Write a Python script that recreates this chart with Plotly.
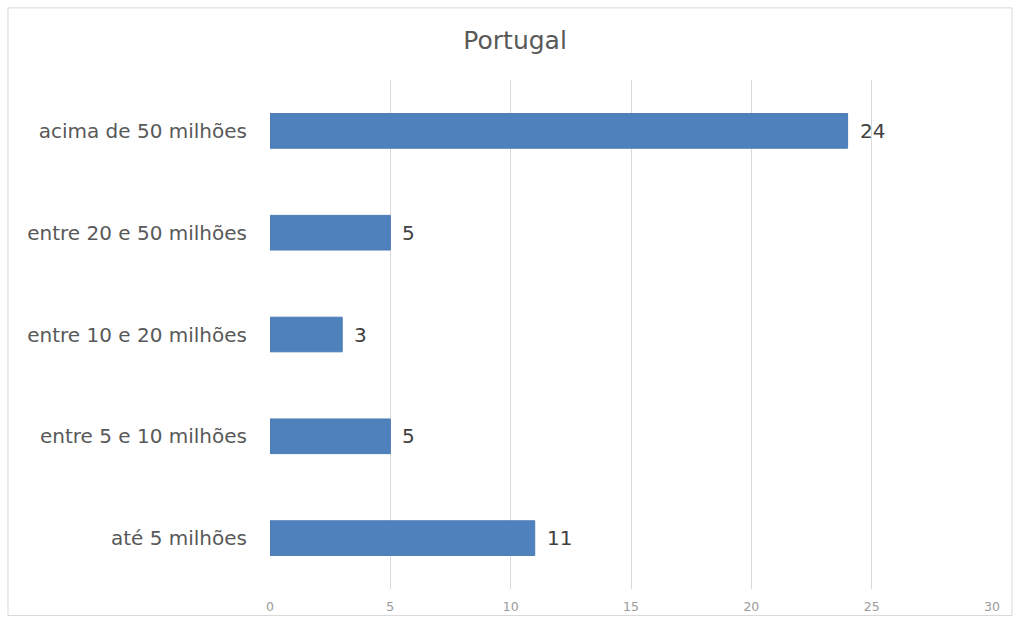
import plotly.graph_objects as go

# Categories listed bottom-to-top (Plotly draws the first category at the bottom)
categorias = [
    "até 5 milhões",
    "entre 5 e 10 milhões",
    "entre 10 e 20 milhões",
    "entre 20 e 50 milhões",
    "acima de 50 milhões",
]
valores = [11, 5, 3, 5, 24]
x_ticks = [0, 5, 10, 15, 20, 25, 30]

FONT = "DejaVu Sans"

fig = go.Figure(
    go.Bar(
        x=valores,
        y=categorias,
        orientation="h",
        marker=dict(color="#4f81bd", line=dict(color="#4a7ab5", width=1)),
        cliponaxis=False,
        hoverinfo="x+y",
    )
)

# Value labels placed just past the end of each bar
for cat, v in zip(categorias, valores):
    fig.add_annotation(
        x=v,
        y=cat,
        xref="x",
        yref="y",
        text=str(v),
        showarrow=False,
        xanchor="left",
        yanchor="middle",
        xshift=10,
        font=dict(family=FONT, size=20, color="#404040"),
    )

fig.update_layout(
    width=1016,
    height=626,
    margin=dict(l=270, r=24, t=80, b=31),
    paper_bgcolor="white",
    plot_bgcolor="white",
    bargap=0.66,
    showlegend=False,
    title=dict(
        text="Portugal",
        x=0.507,
        xref="container",
        xanchor="center",
        y=0.935,
        yanchor="middle",
        font=dict(family=FONT, size=25, color="#595959"),
    ),
    xaxis=dict(
        range=[0, 30],
        tickvals=x_ticks,
        ticktext=[str(t) for t in x_ticks],
        showgrid=True,
        gridcolor="#d9d9d9",
        gridwidth=1,
        zeroline=False,
        showline=False,
        ticks="",
        ticklabelstandoff=8,
        tickfont=dict(family=FONT, size=12.5, color="#9a9a9a"),
    ),
    yaxis=dict(
        showgrid=False,
        zeroline=False,
        showline=False,
        ticks="",
        ticklabelstandoff=22,
        tickfont=dict(family=FONT, size=20, color="#595959"),
    ),
    shapes=[
        dict(
            type="rect",
            xref="paper",
            yref="paper",
            x0=-0.3629,
            x1=1.0277,
            y0=-0.052,
            y1=1.1417,
            line=dict(color="#d9d9d9", width=1),
            fillcolor="rgba(0,0,0,0)",
            layer="below",
        )
    ],
)

fig.write_html("out.html")
